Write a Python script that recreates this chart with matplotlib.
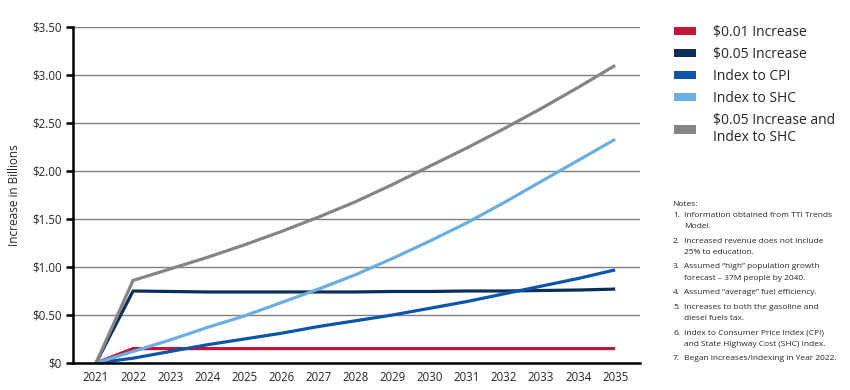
import matplotlib
matplotlib.use("Agg")
from matplotlib import pyplot as plt
from matplotlib.patches import Patch

years = list(range(2021, 2036))

inc_001 = [0, 0.15, 0.15, 0.15, 0.15, 0.15, 0.15, 0.15, 0.15, 0.15, 0.15, 0.15, 0.15, 0.15, 0.15]
inc_005 = [0, 0.75, 0.745, 0.74, 0.74, 0.74, 0.74, 0.74, 0.745, 0.745, 0.75, 0.75, 0.755, 0.76, 0.77]
idx_cpi = [0, 0.05, 0.12, 0.19, 0.25, 0.31, 0.38, 0.44, 0.50, 0.57, 0.64, 0.72, 0.80, 0.88, 0.97]
idx_shc = [0, 0.12, 0.24, 0.37, 0.49, 0.63, 0.77, 0.92, 1.09, 1.27, 1.46, 1.67, 1.89, 2.11, 2.33]
inc_005_shc = [0, 0.86, 0.98, 1.10, 1.23, 1.37, 1.52, 1.68, 1.86, 2.05, 2.24, 2.44, 2.65, 2.87, 3.10]

series_labels = ["$0.01 Increase", "$0.05 Increase", "Index to CPI", "Index to SHC",
                 "$0.05 Increase and\nIndex to SHC"]
series_colors = ["#C4153A", "#0C2F5A", "#0D55AA", "#6AAEE2", "#858585"]

y_ticks = [0, 0.5, 1.0, 1.5, 2.0, 2.5, 3.0, 3.5]
y_tick_labels = ["$0", "$0.50", "$1.00", "$1.50", "$2.00", "$2.50", "$3.00", "$3.50"]

notes = [
    ("Notes:", None),
    ("1.", "Information obtained from TTI Trends\nModel."),
    ("2.", "Increased revenue does not include\n25% to education."),
    ("3.", "Assumed \u201chigh\u201d population growth\nforecast \u2013 37M people by 2040."),
    ("4.", "Assumed \u201caverage\u201d fuel efficiency."),
    ("5.", "Increases to both the gasoline and\ndiesel fuels tax."),
    ("6.", "Index to Consumer Price Index (CPI)\nand State Highway Cost (SHC) Index."),
    ("7.", "Began increases/indexing in Year 2022."),
]

plt.rcParams['font.family'] = ['Open Sans', 'DejaVu Sans']
txt_col = '#262626'

fig = plt.figure(figsize=(8.5, 3.9), dpi=100)
ax = fig.add_axes([73 / 850, 27 / 390, (640 - 73) / 850, (363 - 27) / 390])

for vals, col in zip([inc_001, inc_005, idx_cpi, idx_shc, inc_005_shc], series_colors):
    ax.plot(years, vals, color=col, lw=2.3, solid_capstyle='butt', zorder=3)

ax.set_ylim(0, 3.5)
ax.set_xlim(2020.38, 2035.67)
ax.set_yticks(y_ticks)
ax.set_yticklabels(y_tick_labels)
ax.set_xticks(years)
ax.set_xticklabels([str(y) for y in years])
ax.grid(axis='y', color='#808080', lw=1.0)
ax.set_axisbelow(True)
for s in ['top', 'right']:
    ax.spines[s].set_visible(False)
for s in ['left', 'bottom']:
    ax.spines[s].set_linewidth(1.8)
    ax.spines[s].set_zorder(4)
ax.tick_params(axis='y', length=5, width=1.8, labelsize=8.3, pad=3)
ax.tick_params(axis='x', length=0, labelsize=8.3, pad=6)
for lbl in ax.get_xticklabels() + ax.get_yticklabels():
    lbl.set_color(txt_col)
ax.set_ylabel("Increase in Billions", fontsize=8.5, color=txt_col, labelpad=8)

handles = [Patch(facecolor=c, edgecolor='none') for c in series_colors]
fig.legend(handles, series_labels, loc='upper left', bbox_to_anchor=(674 / 850, 1 - 25 / 390),
           frameon=False, fontsize=10, handlelength=1.6, handleheight=0.55,
           handletextpad=1.2, labelspacing=0.5, borderaxespad=0, borderpad=0,
           labelcolor=txt_col)

fs = 6.0
y = 204
for num, txt in notes:
    if txt is None:
        fig.text(672 / 850, 1 - y / 390, num, fontsize=fs, va='center', color=txt_col)
        y += 11.3
        continue
    lines = txt.split("\n")
    fig.text(673 / 850, 1 - y / 390, num, fontsize=fs, va='center', color=txt_col)
    for i, line in enumerate(lines):
        fig.text(684 / 850, 1 - (y + i * 11.3) / 390, line, fontsize=fs, va='center',
                 color=txt_col)
    y += 11.3 * len(lines) + 3.2

fig.savefig("out.png", dpi=100)
